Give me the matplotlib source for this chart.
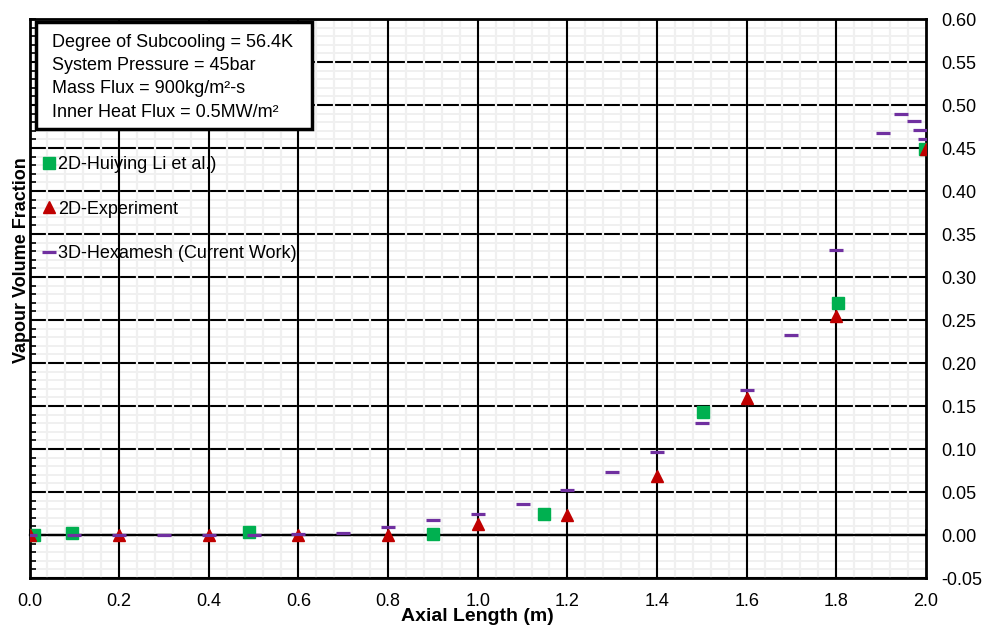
import numpy as np
import matplotlib.pyplot as plt
from matplotlib.patches import Rectangle
from matplotlib.ticker import MultipleLocator

plt.rcParams['font.family'] = ['Liberation Sans', 'DejaVu Sans']
plt.rcParams['axes.unicode_minus'] = False

# 2D-Huiying Li et al.
li_x = [0.011, 0.095, 0.49, 0.90, 1.147, 1.502, 1.804, 1.998]
li_y = [0.0, 0.002, 0.003, 0.001, 0.025, 0.143, 0.270, 0.449]

# 2D-Experiment
exp_x = [0.0, 0.2, 0.4, 0.6, 0.8, 1.0, 1.2, 1.4, 1.6, 1.8, 2.0]
exp_y = [0.0, 0.0, 0.0, 0.0, 0.0, 0.013, 0.023, 0.069, 0.159, 0.255, 0.449]

# 3D-Hexamesh (current work)
hex_x = [0.0, 0.1, 0.2, 0.3, 0.4, 0.5, 0.6, 0.7, 0.8, 0.9, 1.0, 1.1, 1.2,
         1.3, 1.4, 1.5, 1.6, 1.7, 1.8, 1.905, 1.945, 1.974, 1.987, 1.998]
hex_y = [0.0, 0.0, 0.0, 0.0, 0.0, 0.0, 0.001, 0.002, 0.009, 0.017, 0.025,
         0.036, 0.052, 0.073, 0.096, 0.130, 0.169, 0.232, 0.331, 0.468,
         0.490, 0.481, 0.4705, 0.460]

conditions = ["Degree of Subcooling = 56.4K",
              "System Pressure = 45bar",
              "Mass Flux = 900kg/m²-s",
              "Inner Heat Flux = 0.5MW/m²"]

fig = plt.figure(figsize=(9.85, 6.28), dpi=100)
ax = fig.add_axes([0.030, 0.0796, 0.910, 0.8901])

ax.set_xlim(0, 2.0)
ax.set_ylim(-0.05, 0.60)
ax.xaxis.set_major_locator(MultipleLocator(0.2))
ax.xaxis.set_minor_locator(MultipleLocator(0.04))
ax.yaxis.set_major_locator(MultipleLocator(0.05))
ax.yaxis.set_minor_locator(MultipleLocator(0.01))
ax.xaxis.set_major_formatter('{x:.1f}')
ax.yaxis.set_major_formatter('{x:.2f}')

# grid, layered: light horizontals, black horizontals, light verticals, black verticals
grid_gray = '#f0f0f0'
for y in np.arange(-0.04, 0.6, 0.01):
    ax.axhline(y, color=grid_gray, lw=1.4, zorder=0.5)
for y in np.arange(-0.05, 0.601, 0.05):
    ax.axhline(y, color='black', lw=1.5, zorder=0.6)
for x in np.arange(0.04, 2.0, 0.04):
    ax.axvline(x, color=grid_gray, lw=1.6, zorder=0.7)
for x in np.arange(0.2, 2.0, 0.2):
    ax.axvline(x, color='black', lw=1.5, zorder=0.8)
ax.axhline(0, color='black', lw=1.6, zorder=0.9)

for sp in ax.spines.values():
    sp.set_linewidth(2)

ax.tick_params(axis='x', which='both', length=0, pad=11, labelsize=13)
ax.tick_params(axis='y', which='both', direction='in', length=4, width=1.2,
               left=True, right=False, labelleft=False, labelright=True,
               pad=11, labelsize=13)

# x ticks sit on the zero line
zero = ax.secondary_xaxis(0.05 / 0.65)
zero.spines['bottom'].set_linewidth(1.6)
zero.xaxis.set_major_locator(MultipleLocator(0.2))
zero.xaxis.set_minor_locator(MultipleLocator(0.04))
zero.tick_params(which='both', direction='in', length=4, width=1.2, labelbottom=False)

ax.plot(li_x, li_y, 's', color='#00b050', ms=8, label='2D-Huiying Li et al.)', zorder=3)
ax.plot(exp_x, exp_y, '^', color='#c00000', ms=8.5, label='2D-Experiment', zorder=4)
ax.plot(hex_x, hex_y, '_', color='#7030a0', ms=9.5, mew=2.3,
        label='3D-Hexamesh (Current Work)', zorder=5)

ax.set_xlabel('Axial Length (m)', fontsize=14, fontweight='bold')
ax.xaxis.set_label_coords(0.5, -0.0545)
ax.set_ylabel('Vapour Volume Fraction', fontsize=13, fontweight='bold')
ax.yaxis.set_label_coords(0.0006, 0.569)

# operating conditions box
ax.add_patch(Rectangle((0.0067, 0.8032), 0.3088, 0.192, transform=ax.transAxes,
                       facecolor='white', edgecolor='black', lw=2.5, zorder=6))
for i, line in enumerate(conditions):
    ax.text(0.0253, 0.9589 - i * 0.0420, line, transform=ax.transAxes,
            fontsize=13, va='center', ha='left', zorder=7)

leg = ax.legend(loc='upper left', bbox_to_anchor=(0.0078, 0.7675), frameon=False,
                fontsize=13, handlelength=0.6, handletextpad=0.2, labelspacing=1.52,
                borderaxespad=0.0)
leg.set_zorder(7)

fig.savefig('out.png', dpi=100)
